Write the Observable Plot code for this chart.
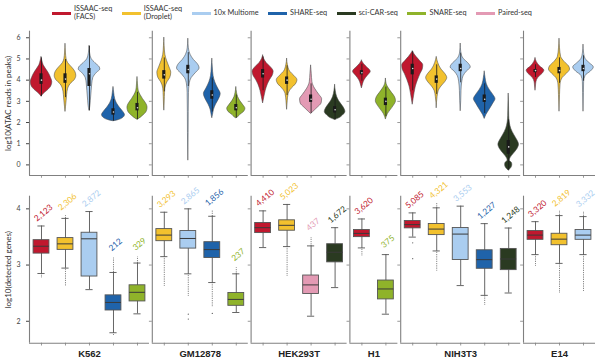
<!DOCTYPE html>
<html><head><meta charset="utf-8">
<script src="https://cdn.jsdelivr.net/npm/d3@7"></script>
<script src="https://cdn.jsdelivr.net/npm/@observablehq/plot@0.6"></script>
<style>
body{margin:0;background:#fff;width:608px;height:363px;overflow:hidden;font-family:Lato,"Open Sans",sans-serif}
#legend{height:26px;box-sizing:border-box;display:flex;align-items:center;padding-left:52px;gap:9.5px;font-size:7.3px;color:#333;line-height:8px}
.item{display:flex;align-items:center;gap:3px}
.sw{width:19px;height:3px}
svg{display:block}
</style></head><body>
<div id="legend"></div><div id="top"></div><div id="bottom"></div>
<script>
// ---------- data ----------
const cellLines = ["K562","GM12878","HEK293T","H1","NIH3T3","E14"];
const methodKeys = ["FACS","Droplet","10x","SHARE","sciCAR","SNARE","Paired"];
const methodLabels = [["ISSAAC-seq","(FACS)"],["ISSAAC-seq","(Droplet)"],["10x Multiome"],["SHARE-seq"],["sci-CAR-seq"],["SNARE-seq"],["Paired-seq"]];
const methodColors = ["#C0182E","#F2C12E","#AACDF0","#1F63AA","#2A3A21","#8FB32A","#E39AB4"];
const panelMethods = [
  ["FACS","Droplet","10x","SHARE","SNARE"],
  ["Droplet","10x","SHARE","SNARE"],
  ["FACS","Droplet","Paired","sciCAR"],
  ["FACS","SNARE"],
  ["FACS","Droplet","10x","SHARE","sciCAR"],
  ["FACS","Droplet","10x"]
];
const geneCounts = [
  ["2,123","2,306","2,872","212","329"],
  ["3,293","2,865","1,856","237"],
  ["4,410","5,023","437","1,672"],
  ["3,620","375"],
  ["5,085","4,321","3,553","1,227","1,248"],
  ["3,320","2,819","3,332"]
];
// log10(detected genes): [low whisker, q1, median, q3, high whisker]
const geneBoxes = [
  [[2.85,3.204,3.335,3.443,3.695],[2.946,3.27,3.377,3.48,3.83],[2.563,2.796,3.467,3.575,3.952],[1.796,2.192,2.335,2.461,2.868],[2.132,2.353,2.515,2.64,3.036]],
  [[3.15,3.425,3.533,3.64,3.94],[2.844,3.293,3.473,3.605,4.0],[2.689,3.126,3.275,3.407,3.868],[2.156,2.275,2.389,2.503,2.844]],
  [[3.311,3.569,3.665,3.749,3.964],[3.329,3.611,3.707,3.796,4.078],[2.09,2.485,2.647,2.814,3.341],[2.599,3.048,3.228,3.371,3.665]],
  [[3.305,3.497,3.563,3.623,3.82],[2.126,2.389,2.575,2.725,3.186]],
  [[3.497,3.653,3.719,3.784,3.928],[3.251,3.533,3.64,3.73,4.018],[2.635,3.09,3.551,3.659,4.048],[2.461,2.934,3.096,3.263,3.737],[2.503,2.91,3.108,3.287,3.659]],
  [[3.186,3.449,3.533,3.605,3.772],[3.03,3.353,3.461,3.557,3.88],[3.186,3.449,3.533,3.623,3.862]]
];
// dense outlier runs beyond the whiskers: [lowest, highest] (null = none)
const geneOutlierRange = [
  [[2.77,null],[2.62,3.89],[null,null],[1.75,3.13],[null,3.14]],
  [[2.62,null],[2.44,null],[2.26,3.97],[null,2.95]],
  [[null,null],[2.80,null],[null,3.49],[null,null]],
  [[3.156,null],[null,null]],
  [[null,null],[2.89,4.1],[null,null],[2.28,null],[null,null]],
  [[2.98,null],[2.503,3.96],[2.533,3.95]]
];
// isolated outliers: [panel, slot, value]
const geneOutlierPoints = [[1,1,2.126],[1,1,2.04],[1,2,2.14],[4,0,3.395],[4,0,3.114]];

// log10(ATAC reads in peaks) violins: widest half-width (fraction of slot)
const violinWidth = [
  [0.45,0.45,0.45,0.48,0.42],
  [0.29,0.47,0.35,0.38],
  [0.44,0.43,0.46,0.43],
  [0.37,0.42],
  [0.44,0.44,0.42,0.45,0.43],
  [0.37,0.44,0.43]
];
// outline: [value, relative half-width]
const violinShape = [
  [
    [[5.08,0],[4.9,0.08],[4.7,0.2],[4.5,0.45],[4.3,0.7],[4.1,0.88],[3.9,1],[3.7,0.9],[3.5,0.55],[3.35,0.2],[3.22,0]],
    [[5.7,0],[5.3,0.04],[5.0,0.1],[4.8,0.25],[4.6,0.6],[4.4,0.9],[4.2,1],[4.0,0.85],[3.8,0.45],[3.6,0.25],[3.3,0.15],[3.0,0.1],[2.75,0.05],[2.5,0]],
    [[5.6,0],[5.3,0.05],[5.0,0.2],[4.8,0.55],[4.6,0.95],[4.5,1],[4.35,0.7],[4.1,0.35],[3.8,0.25],[3.5,0.2],[3.0,0.12],[2.7,0.06],[2.55,0]],
    [[3.66,0],[3.4,0.06],[3.1,0.15],[2.9,0.3],[2.7,0.55],[2.5,0.85],[2.35,1],[2.2,0.8],[2.1,0.35],[2.06,0]],
    [[4.13,0],[3.8,0.05],[3.5,0.12],[3.3,0.3],[3.1,0.55],[2.9,0.85],[2.7,1],[2.5,0.9],[2.3,0.5],[2.17,0.15],[2.13,0]]
  ],
  [
    [[5.99,0],[5.6,0.05],[5.2,0.15],[4.9,0.4],[4.6,0.75],[4.35,1],[4.1,0.85],[3.9,0.45],[3.6,0.15],[3.2,0.08],[2.8,0.04],[2.56,0]],
    [[5.94,0],[5.5,0.05],[5.2,0.2],[4.95,0.5],[4.75,0.85],[4.55,1],[4.35,0.7],[4.1,0.3],[3.8,0.12],[3.4,0.06],[2.5,0.04],[1.5,0.03],[0.2,0]],
    [[5.0,0],[4.6,0.06],[4.2,0.15],[3.9,0.35],[3.6,0.7],[3.35,1],[3.1,0.8],[2.85,0.45],[2.6,0.2],[2.35,0.08],[2.2,0]],
    [[3.66,0],[3.4,0.08],[3.2,0.2],[3.0,0.45],[2.8,0.8],[2.65,1],[2.5,0.85],[2.35,0.4],[2.22,0.1],[2.2,0]]
  ],
  [
    [[5.16,0],[5.0,0.1],[4.8,0.35],[4.6,0.75],[4.4,1],[4.2,0.9],[4.0,0.65],[3.8,0.45],[3.5,0.25],[3.2,0.12],[2.9,0]],
    [[5.0,0],[4.7,0.08],[4.4,0.3],[4.2,0.7],[4.0,1],[3.8,0.85],[3.6,0.45],[3.35,0.15],[3.0,0.06],[2.6,0]],
    [[4.68,0],[4.3,0.06],[3.9,0.12],[3.6,0.35],[3.3,0.75],[3.1,1],[2.9,0.95],[2.7,0.6],[2.5,0.2],[2.4,0]],
    [[3.77,0],[3.5,0.06],[3.2,0.2],[3.0,0.4],[2.8,0.7],[2.6,0.95],[2.5,1],[2.35,0.8],[2.2,0.4],[2.12,0]]
  ],
  [
    [[4.92,0],[4.75,0.25],[4.6,0.6],[4.4,1],[4.2,0.65],[4.0,0.3],[3.8,0.12],[3.61,0]],
    [[4.06,0],[3.8,0.08],[3.6,0.3],[3.4,0.6],[3.2,0.9],[3.0,1],[2.8,0.8],[2.6,0.5],[2.4,0.2],[2.14,0]]
  ],
  [
    [[5.35,0],[5.1,0.35],[4.9,0.7],[4.7,1],[4.5,0.95],[4.3,0.75],[4.0,0.5],[3.7,0.3],[3.4,0.18],[3.1,0.08],[2.84,0]],
    [[5.08,0],[4.8,0.15],[4.5,0.45],[4.3,0.8],[4.1,1],[3.9,0.8],[3.7,0.45],[3.5,0.2],[3.2,0.08],[2.67,0]],
    [[5.71,0],[5.3,0.06],[5.0,0.3],[4.8,0.75],[4.6,1],[4.4,0.6],[4.2,0.3],[3.9,0.15],[3.5,0.08],[3.0,0.05],[2.53,0]],
    [[4.4,0],[4.1,0.08],[3.8,0.2],[3.55,0.45],[3.3,0.8],[3.1,1],[2.9,0.8],[2.6,0.45],[2.35,0.15],[2.17,0]],
    [[3.35,0],[2.8,0.03],[2.3,0.05],[2.0,0.1],[1.7,0.25],[1.4,0.55],[1.15,0.85],[0.95,1],[0.75,0.85],[0.5,0.45],[0.3,0.15],[0.2,0.1],[0.1,0.3],[0.0,0.35],[-0.15,0.25],[-0.27,0]]
  ],
  [
    [[5.03,0],[4.85,0.15],[4.65,0.5],[4.45,1],[4.3,0.8],[4.1,0.3],[3.9,0.1],[3.7,0.05],[3.5,0]],
    [[5.94,0],[5.5,0.05],[5.1,0.15],[4.85,0.5],[4.65,0.9],[4.5,1],[4.3,0.7],[4.1,0.3],[3.8,0.1],[3.3,0.05],[2.51,0]],
    [[5.66,0],[5.3,0.05],[5.0,0.2],[4.8,0.6],[4.6,1],[4.4,0.7],[4.2,0.2],[3.9,0.06],[3.4,0.04],[2.51,0]]
  ]
];
// inner box of the violins: [q1, median, q3]
const atacBoxes = [
  [[3.8,4.0,4.3],[3.85,4.05,4.3],[3.7,4.3,4.55],[2.35,2.5,2.65],[2.55,2.7,2.9]],
  [[4.05,4.25,4.45],[4.3,4.5,4.7],[3.1,3.3,3.5],[2.55,2.7,2.85]],
  [[4.1,4.3,4.5],[3.8,4.0,4.15],[2.95,3.1,3.3],[2.45,2.6,2.75]],
  [[4.25,4.35,4.45],[2.8,3.0,3.15]],
  [[4.25,4.55,4.75],[3.85,4.05,4.2],[4.4,4.55,4.75],[2.95,3.1,3.3],[0.5,0.85,1.15]],
  [[4.35,4.45,4.5],[4.3,4.45,4.6],[4.4,4.55,4.7]]
];

// ---------- layout helpers ----------
const GAP = 0.117; // panel spacing in slot units
const colorOf = k => methodColors[methodKeys.indexOf(k)];
const slots = [];
const panels = [];
let g = 0;
panelMethods.forEach((ms, p) => {
  const first = g + p * GAP;
  ms.forEach((m, j) => {
    slots.push({p, j, m, pos: g + p * GAP, color: colorOf(m), key: p + "-" + j});
    g++;
  });
  const last = (g - 1) + p * GAP;
  panels.push({p, name: cellLines[p], left: first - 0.5, right: last + 0.5, center: (first + last) / 2});
});
const xDomain = [-0.5, (g - 1) + (panelMethods.length - 1) * GAP + 0.5];
const slotOf = (p, j) => slots.find(s => s.p === p && s.j === j);

// ---------- legend ----------
const legend = d3.select("#legend");
methodKeys.forEach((k, i) => {
  const it = legend.append("div").attr("class", "item");
  it.append("div").attr("class", "sw").style("background", methodColors[i]);
  it.append("div").html(methodLabels[i].join("<br>"));
});

const axisColor = "#808080";
const font = "Lato, 'Open Sans', sans-serif";

// ---------- top: violins ----------
const yTop = [-0.5, 6.31];
const violinPts = [];
const innerBoxes = [];
slots.forEach(s => {
  const shape = violinShape[s.p][s.j];
  const wmax = violinWidth[s.p][s.j];
  shape.forEach(([v, r]) => violinPts.push({key: s.key, pos: s.pos, v, w: r * wmax, color: s.color}));
  const [q1, med, q3] = atacBoxes[s.p][s.j];
  const iqr = q3 - q1;
  const top = shape[0][0], bot = shape[shape.length - 1][0];
  innerBoxes.push({pos: s.pos, q1, med, q3, lo: Math.max(bot, q1 - 1.5 * iqr), hi: Math.min(top, q3 + 1.5 * iqr)});
});
const topTicks = d3.range(0, 7);
const topTickRows = panels.slice(1).flatMap(pn => topTicks.map(t => ({left: pn.left, t})));

const topPlot = Plot.plot({
  width: 608, height: 156,
  marginLeft: 29, marginRight: 13, marginTop: 4.7, marginBottom: 7,
  style: {fontFamily: font, fontSize: "7px", color: "#444", background: "white", overflow: "visible"},
  x: {domain: xDomain, axis: null},
  y: {domain: yTop, ticks: 7, tickSize: 3, label: null, tickFormat: d3.format("d")},
  color: {type: "identity"},
  marks: [
    Plot.areaX(violinPts, {y: "v", x1: d => d.pos - d.w, x2: d => d.pos + d.w, z: "key", fill: "color", stroke: "#4a4a4a", strokeWidth: 0.55, curve: "monotone-y"}),
    Plot.ruleX(innerBoxes, {x: "pos", y1: "lo", y2: "hi", stroke: "#1a1a1a", strokeWidth: 0.8}),
    Plot.rect(innerBoxes, {x1: d => d.pos - 0.065, x2: d => d.pos + 0.065, y1: "q1", y2: "q3", fill: "#1a1a1a"}),
    Plot.dot(innerBoxes, {x: "pos", y: "med", r: 0.8, fill: "#ddd"}),
    Plot.ruleX(panels, {x: "left", y1: yTop[0], y2: yTop[1], stroke: axisColor, strokeWidth: 1.1}),
    Plot.ruleY(panels, {y: yTop[0], x1: "left", x2: "right", stroke: axisColor, strokeWidth: 1.1}),
    Plot.ruleY(topTickRows, {y: "t", x1: "left", x2: d => d.left - 0.12, stroke: axisColor, strokeWidth: 0.8}),
    Plot.ruleX(slots, {x: "pos", y1: yTop[0], y2: yTop[0] - 0.13, stroke: axisColor, strokeWidth: 0.8}),
    Plot.text(["log10(ATAC reads in peaks)"], {frameAnchor: "left", textAnchor: "middle", rotate: -90, dx: -21, fontSize: 8, fill: "#333"})
  ]
});
document.getElementById("top").append(topPlot);

// ---------- bottom: boxplots ----------
const yBot = [1.61, 4.225];
const boxes = slots.map(s => {
  const [lo, q1, med, q3, hi] = geneBoxes[s.p][s.j];
  const [olo, ohi] = geneOutlierRange[s.p][s.j];
  return {...s, lo, q1, med, q3, hi, olo, ohi, label: geneCounts[s.p][s.j], top: Math.max(hi, ohi ?? hi)};
});
const outRuns = [];
boxes.forEach(b => {
  if (b.olo != null) outRuns.push({pos: b.pos, a: b.lo, b: b.olo});
  if (b.ohi != null) outRuns.push({pos: b.pos, a: b.hi, b: b.ohi});
});
const outPts = geneOutlierPoints.map(([p, j, v]) => ({pos: slotOf(p, j).pos, v}));
const botTicks = [2, 3, 4];
const botTickRows = panels.slice(1).flatMap(pn => botTicks.map(t => ({left: pn.left, t})));
const boxStroke = "#555";

const botPlot = Plot.plot({
  width: 608, height: 181,
  marginLeft: 29, marginRight: 13, marginTop: 13.7, marginBottom: 20.3,
  style: {fontFamily: font, fontSize: "7px", color: "#444", background: "white", overflow: "visible"},
  x: {domain: xDomain, axis: null},
  y: {domain: yBot, ticks: 3, tickSize: 3, label: null, tickFormat: d3.format("d")},
  color: {type: "identity"},
  marks: [
    Plot.ruleX(outRuns, {x: "pos", y1: "a", y2: "b", stroke: "#444", strokeWidth: 0.9, strokeDasharray: "0.7,1.1"}),
    Plot.dot(outPts, {x: "pos", y: "v", r: 0.6, fill: "#555"}),
    Plot.ruleX(boxes, {x: "pos", y1: "lo", y2: "hi", stroke: boxStroke, strokeWidth: 0.9}),
    Plot.ruleY(boxes, {y: "lo", x1: d => d.pos - 0.15, x2: d => d.pos + 0.15, stroke: boxStroke, strokeWidth: 0.9}),
    Plot.ruleY(boxes, {y: "hi", x1: d => d.pos - 0.15, x2: d => d.pos + 0.15, stroke: boxStroke, strokeWidth: 0.9}),
    Plot.rect(boxes, {x1: d => d.pos - 0.33, x2: d => d.pos + 0.33, y1: "q1", y2: "q3", fill: "color", stroke: boxStroke, strokeWidth: 0.9}),
    Plot.ruleY(boxes, {y: "med", x1: d => d.pos - 0.33, x2: d => d.pos + 0.33, stroke: "#3a3a3a", strokeWidth: 1}),
    Plot.text(boxes, {x: "pos", y: "top", text: "label", fill: "color", rotate: -40, dx: 2, dy: -13, fontSize: 8.3, fontFamily: font}),
    Plot.ruleX(panels, {x: "left", y1: yBot[0], y2: yBot[1], stroke: axisColor, strokeWidth: 1.1}),
    Plot.ruleY(panels, {y: yBot[0], x1: "left", x2: "right", stroke: axisColor, strokeWidth: 1.1}),
    Plot.ruleY(botTickRows, {y: "t", x1: "left", x2: d => d.left - 0.12, stroke: axisColor, strokeWidth: 0.8}),
    Plot.ruleX(slots, {x: "pos", y1: yBot[0], y2: yBot[0] - 0.05, stroke: axisColor, strokeWidth: 0.8}),
    Plot.text(panels, {x: "center", y: yBot[0], text: "name", dy: 11, fontSize: 9.5, fontWeight: "bold", fill: "#222", fontFamily: "'Liberation Sans', Arial, sans-serif"}),
    Plot.text(["log10(detected genes)"], {frameAnchor: "left", textAnchor: "middle", rotate: -90, dx: -21, fontSize: 8, fill: "#333"})
  ]
});
document.getElementById("bottom").append(botPlot);
</script></body></html>
